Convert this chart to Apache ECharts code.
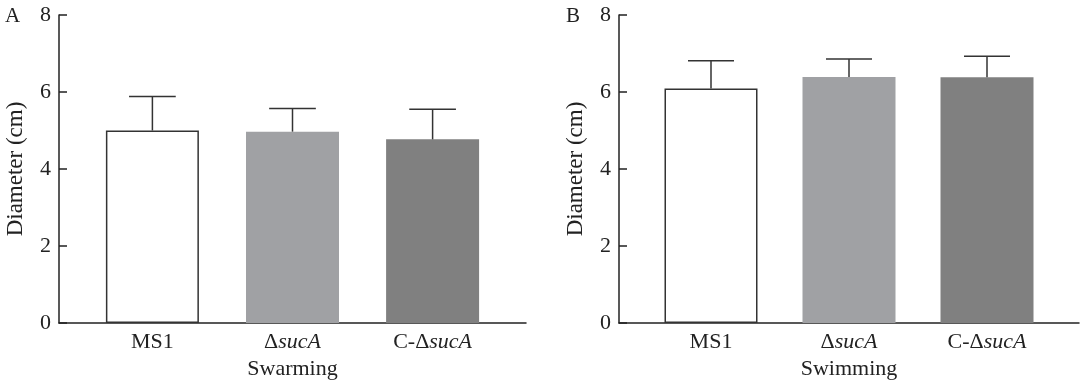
<!DOCTYPE html>
<html><head><meta charset="utf-8">
<script src="https://cdn.jsdelivr.net/npm/echarts@6/dist/echarts.min.js"></script>
<style>html,body{margin:0;padding:0;background:#fff}#c{width:1080px;height:380px}</style>
</head><body><div id="c"></div>
<script>
// Data
const categories = ['MS1', 'ΔsucA', 'C-ΔsucA'];
const categoryPos = [2, 5, 8];
const swarmingMean = [5.0, 4.97, 4.77];
const swarmingUpper = [5.88, 5.57, 5.55];
const swimmingMean = [6.09, 6.39, 6.38];
const swimmingUpper = [6.81, 6.86, 6.93];
const barColors = ['#ffffff', '#a0a1a4', '#808080'];
const yTicks = [0, 2, 4, 6, 8];
const panelTitles = ['A', 'B'];
const groupNames = ['Swarming', 'Swimming'];

const FONT = "'Liberation Serif','Times New Roman',serif";
const INK = '#222';
const FS = 22;

function labelFor(v) {
  const i = categoryPos.indexOf(v);
  if (i < 0) return '';
  const c = categories[i];
  const k = c.indexOf('sucA');
  if (k < 0) return '{n|' + c + '}';
  return '{n|' + c.slice(0, k) + '}{i|sucA}';
}

function xAxis(idx, name) {
  return {
    type: 'value', gridIndex: idx, min: 0, max: 10, interval: 1,
    name: name, nameLocation: 'middle', nameGap: 31,
    nameTextStyle: {fontFamily: FONT, fontSize: FS, color: INK},
    axisLine: {show: true, onZero: false, lineStyle: {color: INK, width: 1.5}},
    axisTick: {show: false}, splitLine: {show: false},
    axisLabel: {
      margin: 8, formatter: labelFor, showMinLabel: true, showMaxLabel: true,
      rich: {
        n: {fontFamily: FONT, fontSize: FS, color: INK},
        i: {fontFamily: FONT, fontSize: FS, color: INK, fontStyle: 'italic'}
      }
    }
  };
}
function yAxis(idx) {
  return {
    type: 'value', gridIndex: idx, min: yTicks[0], max: yTicks[yTicks.length - 1], interval: 2,
    name: 'Diameter (cm)', nameLocation: 'middle', nameGap: 32,
    nameTextStyle: {fontFamily: FONT, fontSize: 23, color: INK},
    axisLine: {show: true, lineStyle: {color: INK, width: 1.5}},
    axisTick: {show: true, inside: true, length: 8, lineStyle: {color: INK, width: 1.5}},
    splitLine: {show: false},
    axisLabel: {margin: 8, fontFamily: FONT, fontSize: FS, color: INK}
  };
}
function barSeries(idx, means) {
  return {
    type: 'bar', xAxisIndex: idx, yAxisIndex: idx, barWidth: 93,
    data: means.map((m, i) => ({
      value: [categoryPos[i], m],
      itemStyle: {color: barColors[i], borderColor: i === 0 ? '#333' : barColors[i], borderWidth: i === 0 ? 1.5 : 0}
    })),
    animation: false
  };
}
function errSeries(idx, means, uppers) {
  return {
    type: 'custom', xAxisIndex: idx, yAxisIndex: idx, z: 5,
    data: means.map((m, i) => [categoryPos[i], m, uppers[i]]),
    renderItem: function (params, api) {
      const x = api.value(0);
      const lo = api.coord([x, api.value(1)]);
      const hi = api.coord([x, api.value(2)]);
      const half = api.size([0.5, 0])[0];
      const st = {stroke: '#333', lineWidth: 1.5};
      return {type: 'group', children: [
        {type: 'line', shape: {x1: lo[0], y1: lo[1], x2: hi[0], y2: hi[1]}, style: st},
        {type: 'line', shape: {x1: hi[0] - half, y1: hi[1], x2: hi[0] + half, y2: hi[1]}, style: st}
      ]};
    },
    animation: false
  };
}

const chart = echarts.init(document.getElementById('c'), null, {renderer: 'canvas'});
chart.setOption({
  backgroundColor: '#fff',
  animation: false,
  title: [
    {text: panelTitles[0], left: 0, top: 1, textStyle: {fontFamily: FONT, fontSize: 21, fontWeight: 'normal', color: INK}},
    {text: panelTitles[1], left: 561, top: 1, textStyle: {fontFamily: FONT, fontSize: 21, fontWeight: 'normal', color: INK}}
  ],
  grid: [
    {left: 59, top: 15, width: 467, height: 308, outerBoundsMode: 'none', containLabel: false},
    {left: 619, top: 15, width: 460, height: 308, outerBoundsMode: 'none', containLabel: false}
  ],
  xAxis: [xAxis(0, groupNames[0]), xAxis(1, groupNames[1])],
  yAxis: [yAxis(0), yAxis(1)],
  series: [
    barSeries(0, swarmingMean), errSeries(0, swarmingMean, swarmingUpper),
    barSeries(1, swimmingMean), errSeries(1, swimmingMean, swimmingUpper)
  ]
});
</script></body></html>
